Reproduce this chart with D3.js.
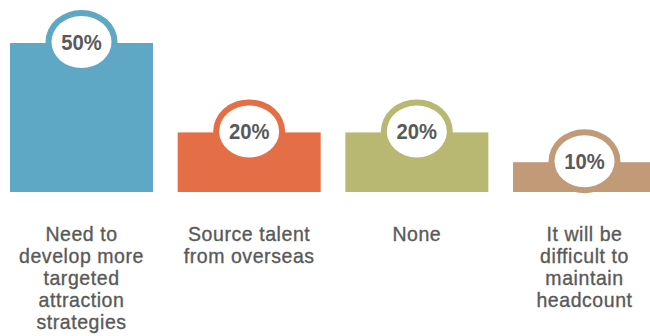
<!DOCTYPE html>
<html>
<head>
<meta charset="utf-8">
<script src="https://cdn.jsdelivr.net/npm/d3@7"></script>
<style>
  body { margin: 0; background: #fff; }
</style>
</head>
<body>
<div id="chart"></div>
<script>
// data
var categories = ["attraction", "overseas", "none", "headcount"];
var labels = [
  ["Need to", "develop more", "targeted", "attraction", "strategies"],
  ["Source talent", "from overseas"],
  ["None"],
  ["It will be", "difficult to", "maintain", "headcount"]
];
var values = [50, 20, 20, 10];
var colors = ["#5ea8c6", "#e46e45", "#b8b872", "#c19a77"];

var width = 650, height = 336;

var svg = d3.select("#chart")
  .append("svg")
  .attr("width", width)
  .attr("height", height);

var x = d3.scaleBand()
  .domain(categories)
  .range([10, 656])
  .paddingInner(0.147)
  .paddingOuter(0);

var y = d3.scaleLinear()
  .domain([0, 50])
  .range([192, 43]);

var rows = categories.map(function(c, i) {
  return {key: c, value: values[i], color: colors[i], lines: labels[i]};
});

// bars
svg.append("g")
  .selectAll("rect")
  .data(rows)
  .join("rect")
  .attr("x", d => x(d.key))
  .attr("y", d => y(d.value))
  .attr("width", x.bandwidth())
  .attr("height", d => y(0) - y(d.value))
  .attr("fill", d => d.color);

// badge on top of each bar
var badge = svg.append("g")
  .selectAll("g")
  .data(rows)
  .join("g")
  .attr("transform", d => `translate(${x(d.key) + x.bandwidth() / 2},${y(d.value) - 1})`);

badge.append("ellipse")
  .attr("rx", 36).attr("ry", 32)
  .attr("fill", d => d.color);

badge.append("ellipse")
  .attr("rx", 30).attr("ry", 26)
  .attr("fill", "#fff");

badge.append("text")
  .attr("y", 8)
  .attr("transform", "scale(0.92,1)")
  .attr("text-anchor", "middle")
  .attr("font-family", "Liberation Sans, Arial, sans-serif")
  .attr("font-weight", "bold")
  .attr("font-size", 22)
  .attr("fill", "#595959")
  .text(d => d.value + "%");

// category labels, slightly condensed
svg.append("g")
  .selectAll("g")
  .data(rows)
  .join("g")
  .attr("transform", d => `translate(${x(d.key) + x.bandwidth() / 2},240.5) scale(0.93,1)`)
  .append("text")
  .attr("text-anchor", "middle")
  .attr("font-family", "Liberation Sans, Arial, sans-serif")
  .attr("font-size", 21)
  .attr("letter-spacing", 0.6)
  .attr("fill", "#595959")
  .attr("stroke", "#595959")
  .attr("stroke-width", 0.35)
  .selectAll("tspan")
  .data(d => d.lines)
  .join("tspan")
  .attr("x", 0)
  .attr("dy", (d, i) => i === 0 ? 0 : 22.2)
  .text(d => d);
</script>
</body>
</html>
